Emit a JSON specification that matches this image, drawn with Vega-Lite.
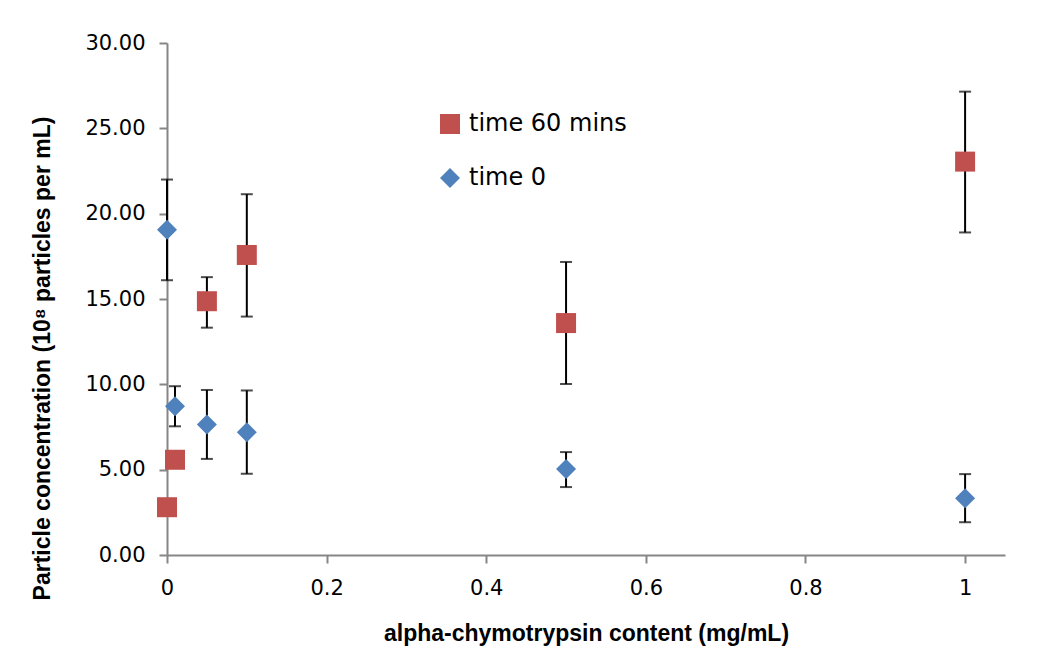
{
  "$schema": "https://vega.github.io/schema/vega-lite/v6.json",
  "autosize": "none",
  "width": 838,
  "height": 512,
  "padding": {"left": 167, "top": 43, "right": 44, "bottom": 116},
  "background": "white",
  "config": {
    "view": {"stroke": null},
    "axis": {
      "grid": false,
      "labelFlush": false,
      "domainColor": "#868686",
      "domainWidth": 2,
      "tickColor": "#868686",
      "tickWidth": 2,
      "tickSize": 8,
      "labelColor": "black",
      "labelFont": "DejaVu Sans",
      "labelFontSize": 21,
      "titleFont": "Liberation Sans",
      "titleFontWeight": "bold",
      "titleFontSize": 23,
      "titleColor": "black"
    }
  },
  "data": {
    "values": [
      {"conc": 0, "series": "time 0", "value": 19.06, "lo": 16.1, "hi": 22.0},
      {"conc": 0.01, "series": "time 0", "value": 8.71, "lo": 7.54, "hi": 9.89},
      {"conc": 0.05, "series": "time 0", "value": 7.64, "lo": 5.63, "hi": 9.67},
      {"conc": 0.1, "series": "time 0", "value": 7.19, "lo": 4.76, "hi": 9.64},
      {"conc": 0.5, "series": "time 0", "value": 5.04, "lo": 3.98, "hi": 6.03},
      {"conc": 1, "series": "time 0", "value": 3.33, "lo": 1.92, "hi": 4.74},
      {"conc": 0, "series": "time 60 mins", "value": 2.8, "lo": null, "hi": null},
      {"conc": 0.01, "series": "time 60 mins", "value": 5.58, "lo": null, "hi": null},
      {"conc": 0.05, "series": "time 60 mins", "value": 14.87, "lo": 13.32, "hi": 16.28},
      {"conc": 0.1, "series": "time 60 mins", "value": 17.58, "lo": 13.97, "hi": 21.14},
      {"conc": 0.5, "series": "time 60 mins", "value": 13.59, "lo": 10.02, "hi": 17.17},
      {"conc": 1, "series": "time 60 mins", "value": 23.05, "lo": 18.9, "hi": 27.15}
    ]
  },
  "layer": [
    {
      "transform": [{"filter": "datum.lo != null"}],
      "mark": {"type": "rule", "color": "black", "strokeWidth": 2},
      "encoding": {
        "x": {"field": "conc", "type": "quantitative", "scale": {"domain": [0, 1.05], "nice": false},
              "axis": {"values": [0, 0.2, 0.4, 0.6, 0.8, 1], "format": "~g", "labelPadding": 14, "title": "alpha-chymotrypsin content (mg/mL)", "titleY": 78, "titleBaseline": "middle"}},
        "y": {"field": "lo", "type": "quantitative", "scale": {"domain": [0, 30], "nice": false},
              "axis": {"values": [0, 5, 10, 15, 20, 25, 30], "format": ".2f", "labelPadding": 14, "title": "Particle concentration (10⁸ particles per mL)", "titleAngle": -90, "titleX": -125, "titleY": 315, "titleAlign": "center", "titleBaseline": "middle"}},
        "y2": {"field": "hi"}
      }
    },
    {
      "transform": [{"filter": "datum.lo != null"}],
      "mark": {"type": "tick", "orient": "horizontal", "color": "black", "thickness": 2, "size": 12},
      "encoding": {
        "x": {"field": "conc", "type": "quantitative"},
        "y": {"field": "lo", "type": "quantitative"}
      }
    },
    {
      "transform": [{"filter": "datum.lo != null"}],
      "mark": {"type": "tick", "orient": "horizontal", "color": "black", "thickness": 2, "size": 12},
      "encoding": {
        "x": {"field": "conc", "type": "quantitative"},
        "y": {"field": "hi", "type": "quantitative"}
      }
    },
    {
      "mark": {"type": "point", "filled": true, "opacity": 1, "size": 400},
      "encoding": {
        "x": {"field": "conc", "type": "quantitative"},
        "y": {"field": "value", "type": "quantitative"},
        "color": {"field": "series", "type": "nominal",
                  "scale": {"domain": ["time 60 mins", "time 0"], "range": ["#C0504D", "#4F81BD"]},
                  "legend": {"orient": "none", "legendX": 271, "legendY": 69, "title": null,
                             "labelFont": "DejaVu Sans", "labelFontSize": 24, "labelColor": "black",
                             "symbolSize": 400, "symbolOpacity": 1, "symbolStrokeWidth": 0,
                             "rowPadding": 30, "labelOffset": 7}},
        "shape": {"field": "series", "type": "nominal",
                  "scale": {"domain": ["time 60 mins", "time 0"], "range": ["square", "diamond"]}}
      }
    }
  ]
}
